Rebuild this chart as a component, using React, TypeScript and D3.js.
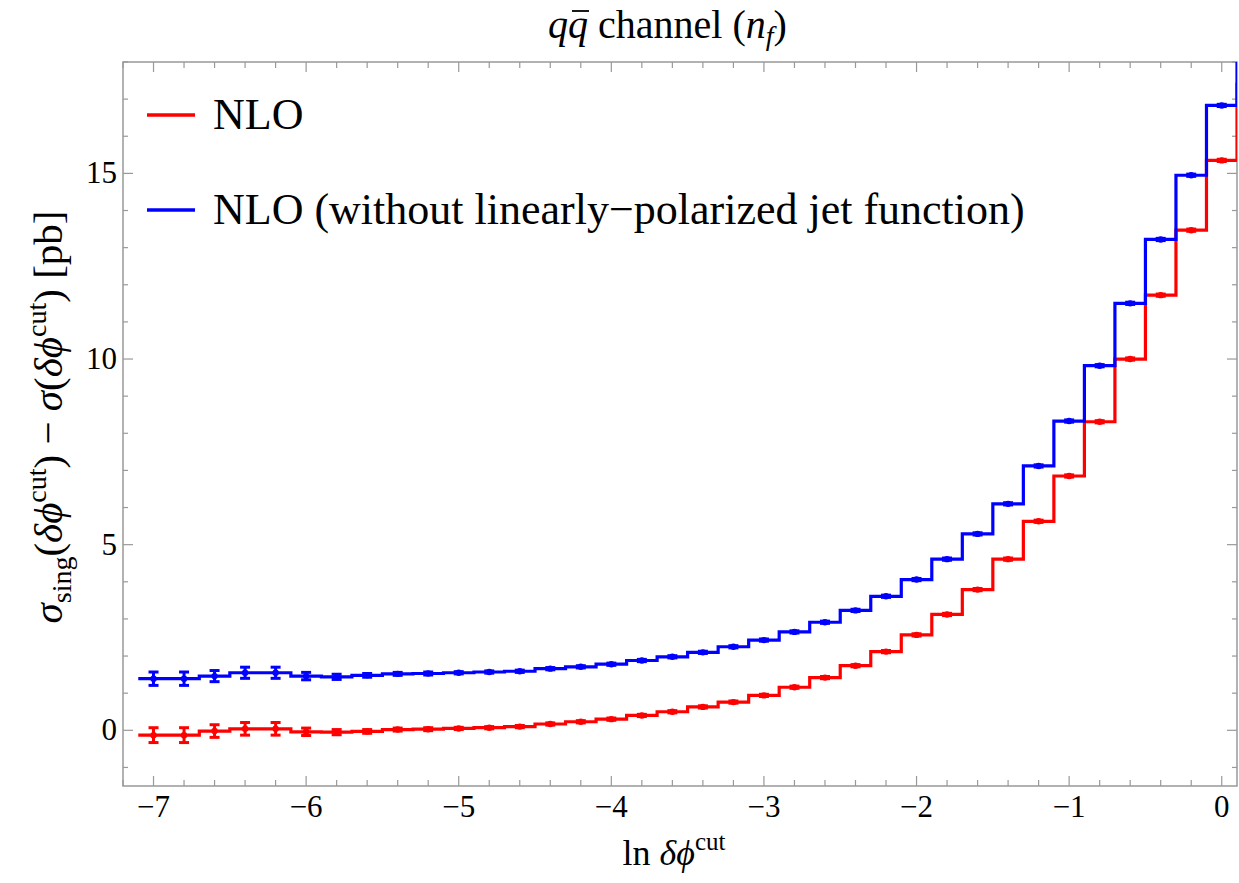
import React from "react";
import * as d3 from "d3";

// bin centres in ln(delta phi cut)
const lnPhi = [
  -7.0, -6.8, -6.6, -6.4, -6.2, -6.0, -5.8, -5.6, -5.4, -5.2, -5.0, -4.8,
  -4.6, -4.4, -4.2, -4.0, -3.8, -3.6, -3.4, -3.2, -3.0, -2.8, -2.6, -2.4,
  -2.2, -2.0, -1.8, -1.6, -1.4, -1.2, -1.0, -0.8, -0.6, -0.4, -0.2, 0.0, 0.2,
];

const nloRed = [
  -0.13, -0.13, -0.02, 0.04, 0.04, -0.04, -0.05, -0.03, 0.02, 0.03, 0.05, 0.07,
  0.10, 0.17, 0.23, 0.30, 0.40, 0.50, 0.63, 0.76, 0.94, 1.16, 1.42, 1.74,
  2.12, 2.57, 3.12, 3.79, 4.61, 5.63, 6.85, 8.31, 10.0, 11.72, 13.47, 15.35, 17.4,
];
const nloRedErr = [
  0.2, 0.2, 0.17, 0.17, 0.17, 0.1, 0.07, 0.05, 0.04, 0.04, 0.03, 0.03,
  0.03, 0.03, 0.03, 0.03, 0.03, 0.03, 0.03, 0.03, 0.03, 0.03, 0.03, 0.03,
  0.03, 0.03, 0.03, 0.03, 0.03, 0.03, 0.03, 0.03, 0.03, 0.03, 0.03, 0.03, 0.03,
];

const nloBlue = [
  1.39, 1.39, 1.46, 1.55, 1.55, 1.46, 1.44, 1.48, 1.52, 1.53, 1.55, 1.57,
  1.59, 1.66, 1.71, 1.78, 1.88, 1.98, 2.10, 2.25, 2.43, 2.65, 2.91, 3.23,
  3.61, 4.06, 4.61, 5.29, 6.10, 7.12, 8.33, 9.82, 11.5, 13.22, 14.95, 16.83, 18.9,
];
const nloBlueErr = [
  0.18, 0.18, 0.15, 0.15, 0.15, 0.1, 0.07, 0.05, 0.04, 0.04, 0.03, 0.03,
  0.03, 0.03, 0.03, 0.03, 0.03, 0.03, 0.03, 0.03, 0.03, 0.03, 0.03, 0.03,
  0.03, 0.03, 0.03, 0.03, 0.03, 0.03, 0.03, 0.03, 0.03, 0.03, 0.03, 0.03, 0.03,
];

const xTicks = [-7, -6, -5, -4, -3, -2, -1, 0];
const yTicks = [0, 5, 10, 15];

const binWidth = 0.2;
const W = 1239;
const H = 883;
const left = 123, right = 1237, top = 62, bottom = 786;
const font = { fontFamily: "Liberation Serif" };
const frameColor = "#999999";
const phi = "\u03b4\u03d5";

export default function App() {
  const x = d3.scaleLinear().domain([-7.2, 0.1]).range([left, right]);
  const y = d3.scaleLinear().domain([-1.5, 18]).range([bottom, top]);

  const stepPath = (vals: number[]) => {
    const pts: [number, number][] = vals.map((v, i) => [lnPhi[i] - binWidth / 2, v]);
    pts.push([lnPhi[lnPhi.length - 1] + binWidth / 2, vals[vals.length - 1]]);
    return d3
      .line<[number, number]>()
      .x((d) => x(d[0]))
      .y((d) => y(d[1]))
      .curve(d3.curveStepAfter)(pts) as string;
  };

  const xMinor = d3.range(-72, 2, 2).map((v) => v / 10).filter((v) => v >= -7.2 && v <= 0.1);
  const yMinor = d3.range(-1, 19, 1);

  const series = [
    { vals: nloRed, errs: nloRedErr, color: "#ff0000" },
    { vals: nloBlue, errs: nloBlueErr, color: "#0000ff" },
  ];

  // title is placed from the left so the bar over the 2nd q can sit on it
  const titleX = 548;
  const titleSize = 40;

  return (
    <svg width={W} height={H} style={{ position: "absolute", left: 0, top: 0 }}>
      <rect width={W} height={H} fill="#fff" />
      <defs>
        <clipPath id="plot">
          <rect x={left} y={top} width={right - left} height={bottom - top} />
        </clipPath>
      </defs>

      {/* frame */}
      <rect x={left} y={top} width={right - left} height={bottom - top} fill="none" stroke={frameColor} strokeWidth={1.5} />
      {xMinor.map((v) => {
        const major = Math.abs(v - Math.round(v)) < 1e-6;
        const len = major ? 10 : 6;
        return (
          <g key={"xt" + v} stroke={frameColor} strokeWidth={1.2}>
            <line x1={x(v)} x2={x(v)} y1={bottom} y2={bottom - len} />
            <line x1={x(v)} x2={x(v)} y1={top} y2={top + len} />
          </g>
        );
      })}
      {yMinor.map((v) => {
        const major = v % 5 === 0;
        const len = major ? 10 : 5;
        return (
          <g key={"yt" + v} stroke={frameColor} strokeWidth={1.2}>
            <line x1={left} x2={left + len} y1={y(v)} y2={y(v)} />
            <line x1={right} x2={right - len} y1={y(v)} y2={y(v)} />
          </g>
        );
      })}
      {xTicks.map((v) => (
        <text key={"xl" + v} x={x(v)} y={817} fontSize={31} textAnchor="middle" style={font}>
          {v < 0 ? "\u2212" + Math.abs(v) : v}
        </text>
      ))}
      {yTicks.map((v) => (
        <text key={"yl" + v} x={left - 6} y={y(v) + 10} fontSize={31} textAnchor="end" style={font}>
          {v}
        </text>
      ))}

      {/* histograms */}
      <g clipPath="url(#plot)">
        {series.map((s, si) => (
          <g key={"s" + si}>
            <path d={stepPath(s.vals)} fill="none" stroke={s.color} strokeWidth={3.2} strokeLinejoin="miter" />
            {s.vals.map((v, i) => (
              <g key={i} stroke={s.color} strokeWidth={3}>
                <line x1={x(lnPhi[i])} x2={x(lnPhi[i])} y1={y(v - s.errs[i])} y2={y(v + s.errs[i])} />
                <line x1={x(lnPhi[i]) - 5} x2={x(lnPhi[i]) + 5} y1={y(v - s.errs[i])} y2={y(v - s.errs[i])} />
                <line x1={x(lnPhi[i]) - 5} x2={x(lnPhi[i]) + 5} y1={y(v + s.errs[i])} y2={y(v + s.errs[i])} />
                <circle cx={x(lnPhi[i])} cy={y(v)} r={3.2} fill={s.color} stroke="none" />
              </g>
            ))}
          </g>
        ))}
      </g>

      {/* legend */}
      <line x1={147} x2={195} y1={115} y2={115} stroke="#ff0000" strokeWidth={3.5} />
      <text x={213} y={129} fontSize={44} style={font}>NLO</text>
      <line x1={147} x2={195} y1={210} y2={210} stroke="#0000ff" strokeWidth={3.5} />
      <text x={213} y={224} fontSize={44} style={font}>NLO (without linearly{"\u2212"}polarized jet function)</text>

      {/* title */}
      <text x={titleX} y={38} fontSize={titleSize} style={font}>
        <tspan fontStyle="italic">qq</tspan>
        <tspan> channel (</tspan>
        <tspan fontStyle="italic">n</tspan>
        <tspan fontStyle="italic" fontSize={28} dy={7}>f</tspan>
        <tspan dy={-7}>)</tspan>
      </text>
      <line
        x1={titleX + titleSize * 0.5 + 4}
        x2={titleX + titleSize * 1.0 + 1}
        y1={11}
        y2={11}
        stroke="#000"
        strokeWidth={1.8}
      />

      {/* x label */}
      <text x={674} y={865} fontSize={36} textAnchor="middle" style={font}>
        <tspan>ln </tspan>
        <tspan fontStyle="italic">{phi}</tspan>
        <tspan fontSize={25} dy={-15}>cut</tspan>
      </text>

      {/* y label */}
      <text transform="translate(62,417) rotate(-90)" fontSize={41} textAnchor="middle" style={font}>
        <tspan fontStyle="italic">{"\u03c3"}</tspan>
        <tspan fontSize={28} dy={9}>sing</tspan>
        <tspan dy={-9}>(</tspan>
        <tspan fontStyle="italic">{phi}</tspan>
        <tspan fontSize={28} dy={-16}>cut</tspan>
        <tspan dy={16}>) {"\u2212"} </tspan>
        <tspan fontStyle="italic">{"\u03c3"}</tspan>
        <tspan>(</tspan>
        <tspan fontStyle="italic">{phi}</tspan>
        <tspan fontSize={28} dy={-16}>cut</tspan>
        <tspan dy={16}>) [pb]</tspan>
      </text>
    </svg>
  );
}
